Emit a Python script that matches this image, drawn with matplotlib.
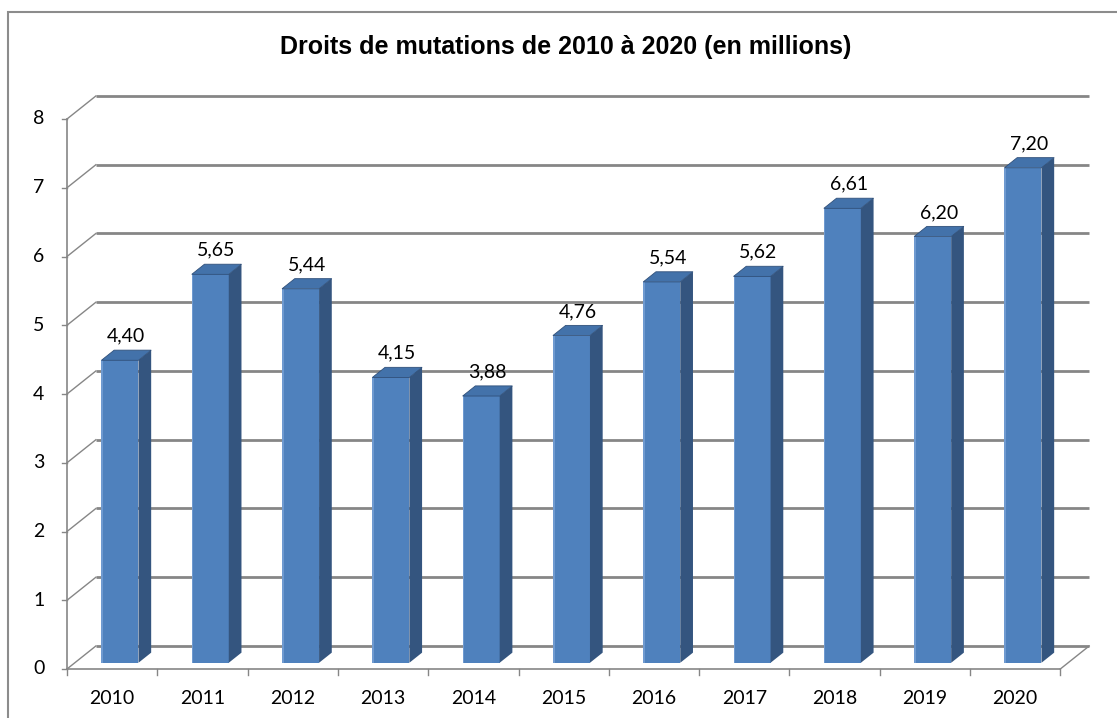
import matplotlib
matplotlib.use("Agg")
import matplotlib.pyplot as plt
from matplotlib.patches import Polygon, Rectangle

years = ["2010", "2011", "2012", "2013", "2014", "2015",
         "2016", "2017", "2018", "2019", "2020"]
values = [4.40, 5.65, 5.44, 4.15, 3.88, 4.76, 5.54, 5.62, 6.61, 6.20, 7.20]
yticks = [0, 1, 2, 3, 4, 5, 6, 7, 8]
title = "Droits de mutations de 2010 à 2020 (en millions)"

# 3d look: wall depth offset in data units
DX = 0.32
DY = 0.335
bar_w = 0.41
bar_pos = 0.27      # where the bar front sits inside the depth
bar_depth = 0.44    # bar thickness as fraction of the depth

c_front = "#4f81bd"
c_side = "#34557f"
c_top = "#4372aa"
c_grid = "#868686"
lbl_font = "Lato"
lbl_size = 14

W, H = 1117, 718
fig = plt.figure(figsize=(W / 100, H / 100), dpi=100)

# plot area in pixels
x0_px, y0_px = 67, 669
cat_px, unit_px = 90.3, 68.75
ax_w = (len(years) + DX) * cat_px
ax_h = (8 + DY) * unit_px
ax = fig.add_axes([x0_px / W, (H - y0_px) / H, ax_w / W, ax_h / H])
ax.set_xlim(-0.5, len(years) - 0.5 + DX)
ax.set_ylim(0, 8 + DY)
ax.axis("off")

xl, xr = -0.5, len(years) - 0.5

# back wall gridlines + left side wall diagonals + y ticks
for t in yticks:
    ax.plot([xl + DX, xr + DX], [t + DY, t + DY], color=c_grid, lw=2.0,
            solid_capstyle="butt", zorder=1, clip_on=False)
    ax.plot([xl, xl + DX], [t, t + DY], color=c_grid, lw=1.0, zorder=1,
            clip_on=False)
    ax.plot([xl - 0.055, xl], [t, t], color=c_grid, lw=1.0, zorder=1,
            clip_on=False)
    ax.text(xl - 0.25, t, str(t), ha="right", va="center", fontsize=lbl_size,
            family=lbl_font, color="black")

# front vertical axis
ax.plot([xl, xl], [0, 8], color=c_grid, lw=1.2, zorder=1, clip_on=False)

# floor: front edge, right diagonal, category ticks
ax.plot([xl, xr], [0, 0], color=c_grid, lw=1.2, zorder=1, clip_on=False)
ax.plot([xr, xr + DX], [0, DY], color=c_grid, lw=1.0, zorder=1, clip_on=False)
for i in range(len(years) + 1):
    ax.plot([i - 0.5, i - 0.5], [0, -0.08], color=c_grid, lw=1.0,
            clip_on=False)

# bars
bdx, bdy = bar_depth * DX, bar_depth * DY
for i, (yr, v) in enumerate(zip(years, values)):
    cx = i + bar_pos * DX
    base = bar_pos * DY
    left, right = cx - bar_w / 2, cx + bar_w / 2
    top = v + base
    ax.bar(cx, v, bottom=base, width=bar_w, color=c_front, edgecolor="none",
           zorder=3)
    ax.add_patch(Rectangle((left, base), 0.018, v, color="#6f9ad0", lw=0,
                           zorder=3.5))
    ax.add_patch(Polygon([(right, base), (right + bdx, base + bdy),
                          (right + bdx, top + bdy), (right, top)],
                         closed=True, facecolor=c_side, edgecolor="none",
                         zorder=3))
    ax.add_patch(Polygon([(left, top), (right, top), (right + bdx, top + bdy),
                          (left + bdx, top + bdy)],
                         closed=True, facecolor=c_top, edgecolor="#30507a",
                         lw=0.6, zorder=4))
    ax.text(cx + bdx / 2, top + bdy + 0.08, f"{v:.2f}".replace(".", ","),
            ha="center", va="bottom", fontsize=lbl_size, family=lbl_font,
            color="black", zorder=5)
    ax.text(i, -0.3, yr, ha="center", va="top", fontsize=lbl_size,
            family=lbl_font, color="black")

fig.text(566 / W, 1 - 47 / H, title, ha="center", va="center",
         fontsize=18, fontweight="bold", family="Liberation Sans")

# chart area border
fig.add_artist(Rectangle((8 / W, -0.05), 1.2, 1 - 12 / H + 0.05,
                         transform=fig.transFigure, fill=False,
                         edgecolor="#8c8c8c", lw=1.5))

fig.savefig("out.png", dpi=100)
